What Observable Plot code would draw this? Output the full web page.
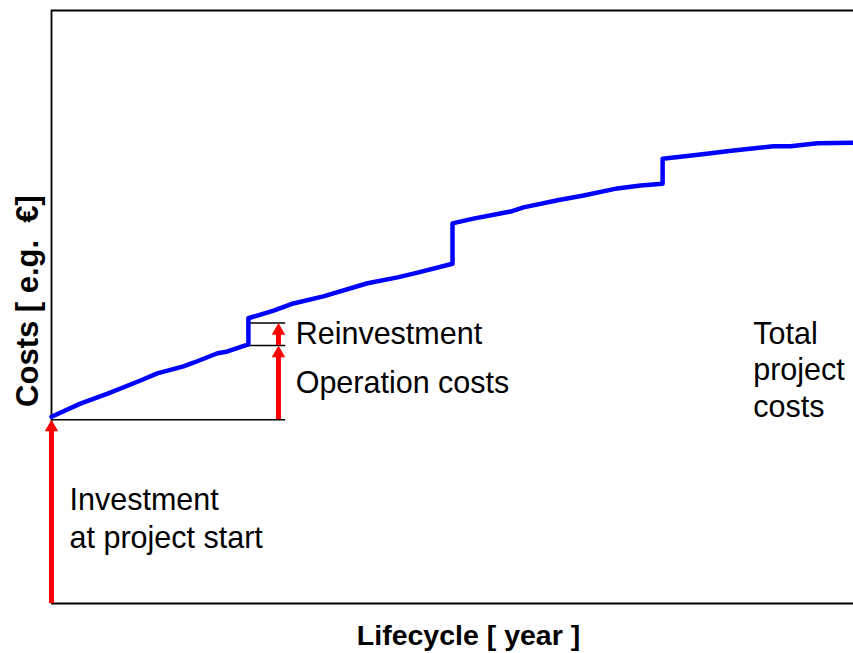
<!DOCTYPE html>
<html>
<head>
<meta charset="utf-8">
<script src="https://cdn.jsdelivr.net/npm/d3@7"></script>
<script src="https://cdn.jsdelivr.net/npm/@observablehq/plot@0.6"></script>
<style>
  html, body { margin: 0; padding: 0; background: #fff; }
  svg { display: block; }
</style>
</head>
<body>
<div id="chart"></div>
<script>
// Total project costs over the lifecycle (years vs. cost units)
const lifeYear  = [0, 0.72, 1.40, 2.22, 2.64, 3.29, 3.54, 4.14, 4.39, 4.91,
                   4.91, 5.54, 6.03, 6.78, 7.88, 8.63, 9.13, 10.0,
                   10.0, 10.52, 11.45, 11.77, 12.62, 13.27, 14.11, 14.69, 15.24,
                   15.24, 16.18, 17.01, 18.0, 18.43, 19.1, 20];
const totalCost = [31.5, 33.7, 35.4, 37.6, 38.8, 40.0, 40.6, 42.2, 42.5, 43.7,
                   48.1, 49.4, 50.6, 51.8, 54.0, 55.0, 55.8, 57.3,
                   64.1, 64.9, 66.1, 66.8, 68.0, 68.8, 70.0, 70.5, 70.8,
                   75.0, 75.7, 76.4, 77.1, 77.1, 77.6, 77.7];

// Cost components (red arrows)
const arrowX    = [0, 5.66, 5.66];
const arrowFrom = [0, 31.0, 43.5];
const arrowTo   = [31.0, 43.5, 47.3];

// Reference levels (black thin lines)
const levelY  = [31.0, 43.5, 47.3];
const levelX1 = [0, 4.91, 4.91];
const levelX2 = [5.84, 5.84, 5.84];

// Annotations
const noteText = ["Reinvestment", "Operation costs", "Total\nproject\ncosts", "Investment\nat project start"];
const noteX    = [5.84, 5.84, 17.5, 0.45];
const noteY    = [45.4, 37.2, 39.6, 14.6];

const xMax = 20, yMax = 100;

const line = lifeYear.map((x, i) => ({x, y: totalCost[i]}));
const arrows = arrowX.map((x, i) => ({x, from: arrowFrom[i], to: arrowTo[i]}));
const levels = levelY.map((y, i) => ({y, x1: levelX1[i], x2: levelX2[i]}));
const notes = noteText.map((t, i) => ({t, x: noteX[i], y: noteY[i]}));

const font = "'Liberation Sans', Arial, Helvetica, sans-serif";
const fs = 30.5;

const chart = Plot.plot({
  width: 853,
  height: 653,
  marginLeft: 51,
  marginRight: 0,
  marginTop: 10,
  marginBottom: 50,
  style: {fontFamily: font, background: "#fff"},
  x: {domain: [0, xMax], axis: null},
  y: {domain: [0, yMax], axis: null},
  marks: [
    // frame: top, bottom, left
    Plot.ruleY([0, yMax], {stroke: "#000", strokeWidth: 1.8}),
    Plot.ruleX([0], {stroke: "#000", strokeWidth: 1.8}),
    // level lines
    Plot.ruleY(levels, {y: "y", x1: "x1", x2: "x2", stroke: "#000", strokeWidth: 1.5}),
    // total cost line
    Plot.line(line, {x: "x", y: "y", stroke: "#0000ff", strokeWidth: 4.5, strokeLinejoin: "round", strokeLinecap: "round"}),
    // red arrows (shaft from tip-inset down to the base, then a filled head)
    Plot.ruleX(arrows, {x: "x", y1: "to", y2: "from", stroke: "#ff0000", strokeWidth: 5, insetTop: 9}),
    Plot.dot(arrows, {x: "x", y: "to", symbol: "triangle", r: 5, fill: "#ff0000", stroke: "none", dy: 7.8}),
    // annotations
    Plot.text(notes.slice(0, 2), {x: "x", y: "y", text: "t", textAnchor: "start", dx: 10, fontSize: fs, fill: "#000"}),
    Plot.text(notes.slice(2, 3), {x: "x", y: "y", text: "t", textAnchor: "start", fontSize: fs, fill: "#000", lineHeight: 1.2}),
    Plot.text(notes.slice(3, 4), {x: "x", y: "y", text: "t", textAnchor: "start", fontSize: fs, fill: "#000", lineHeight: 1.24}),
    // axis titles
    Plot.text(["Lifecycle [ year ]"], {frameAnchor: "bottom", textAnchor: "middle", dy: 41, dx: 16, fontSize: 28.5, fontWeight: "bold", fill: "#000"}),
    Plot.text(["Costs [ e.g.  €]"], {frameAnchor: "left", textAnchor: "middle", rotate: -90, dx: -23, dy: -6, fontSize: 31, fontWeight: "bold", fill: "#000"})
  ]
});
document.getElementById("chart").appendChild(chart);
</script>
</body>
</html>
